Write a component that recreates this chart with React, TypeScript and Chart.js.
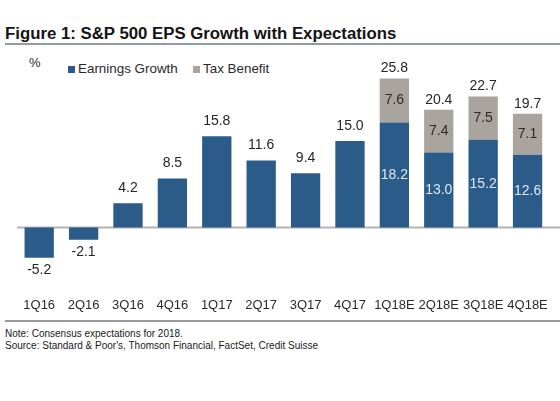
import React, { useEffect, useRef } from "react";
import { Chart, registerables } from "chart.js";

Chart.register(...registerables);

const categories = ["1Q16", "2Q16", "3Q16", "4Q16", "1Q17", "2Q17", "3Q17", "4Q17", "1Q18E", "2Q18E", "3Q18E", "4Q18E"];
const earningsGrowth = [-5.2, -2.1, 4.2, 8.5, 15.8, 11.6, 9.4, 15.0, 18.2, 13.0, 15.2, 12.6];
const taxBenefit: (number | null)[] = [null, null, null, null, null, null, null, null, 7.6, 7.4, 7.5, 7.1];
const totals: (number | null)[] = [null, null, null, null, null, null, null, null, 25.8, 20.4, 22.7, 19.7];

const BLUE = "#2b5b89";
const GRAY = "#aaa49f";
const FONT = '"Liberation Sans", Arial, Helvetica, sans-serif';

const labelPlugin = {
  id: "valueLabels",
  beforeDatasetsDraw(chart: any) {
    const ctx = chart.ctx;
    const y0 = chart.scales.y.getPixelForValue(0);
    ctx.save();
    ctx.strokeStyle = "#b3b3b3";
    ctx.lineWidth = 2;
    ctx.beginPath();
    ctx.moveTo(chart.chartArea.left, y0);
    ctx.lineTo(chart.width, y0);
    ctx.stroke();
    ctx.restore();
  },
  afterDatasetsDraw(chart: any) {
    const ctx = chart.ctx;
    const m0 = chart.getDatasetMeta(0);
    const m1 = chart.getDatasetMeta(1);
    ctx.save();
    ctx.font = "14px " + FONT;
    ctx.textAlign = "center";
    ctx.textBaseline = "middle";
    categories.forEach((_, i) => {
      const e = earningsGrowth[i];
      const b = m0.data[i];
      const t = taxBenefit[i];
      if (t == null) {
        ctx.fillStyle = "#262626";
        if (e >= 0) ctx.fillText(e.toFixed(1), b.x, b.y - 15);
        else ctx.fillText(e.toFixed(1), b.x, b.y + 12);
      } else {
        const g = m1.data[i];
        ctx.fillStyle = "#dce7f3";
        ctx.fillText(e.toFixed(1), b.x, (b.y + b.base) / 2);
        ctx.fillStyle = "#2a2a2a";
        ctx.fillText(t.toFixed(1), g.x, (g.y + g.base) / 2);
        const tot = totals[i];
        if (tot != null) {
          ctx.fillStyle = "#262626";
          ctx.fillText(tot.toFixed(1), g.x, g.y - 10);
        }
      }
    });
    ctx.restore();
  },
};

function ChartCanvas() {
  const ref = useRef<HTMLCanvasElement>(null);
  useEffect(() => {
    if (!ref.current) return;
    const chart = new Chart(ref.current, {
      type: "bar",
      data: {
        labels: categories,
        datasets: [
          { label: "Earnings Growth", data: earningsGrowth, backgroundColor: BLUE, borderWidth: 0 },
          { label: "Tax Benefit", data: taxBenefit, backgroundColor: GRAY, borderWidth: 0 },
        ],
      },
      options: {
        responsive: false,
        animation: false,
        devicePixelRatio: 1,
        layout: { padding: { left: 17, right: 5, top: 10, bottom: 0 } },
        datasets: { bar: { categoryPercentage: 1, barPercentage: 0.66 } },
        plugins: { legend: { display: false }, tooltip: { enabled: false }, title: { display: false } },
        scales: {
          x: {
            stacked: true,
            grid: { display: false, drawTicks: false },
            border: { display: false },
            afterFit(scale: any) {
              scale.height = 32.6;
            },
            ticks: {
              autoSkip: false,
              maxRotation: 0,
              minRotation: 0,
              padding: 12,
              color: "#2a2a2a",
              font: { family: FONT, size: 13 },
            },
          },
          y: { stacked: true, display: false, min: -10, max: 29 },
        },
      },
      plugins: [labelPlugin],
    } as any);
    return () => chart.destroy();
  }, []);
  return (
    <canvas
      ref={ref}
      width={560}
      height={268}
      style={{ position: "absolute", left: 0, top: 50, width: 560, height: 268 }}
    />
  );
}

export default function App() {
  const txt: React.CSSProperties = { position: "absolute", fontFamily: FONT, whiteSpace: "nowrap", color: "#2a2a2a" };
  return (
    <div style={{ position: "fixed", left: 0, top: 0, width: 560, height: 401, background: "#fff", overflow: "hidden" }}>
      <div style={{ ...txt, left: 5, top: 25, fontSize: 16.8, lineHeight: "18px", fontWeight: "bold", color: "#141414" }}>
        Figure 1: S&amp;P 500 EPS Growth with Expectations
      </div>
      <div style={{ position: "absolute", left: 5, top: 42.5, width: 555, height: 2, background: "#8f9ca9" }} />
      <div style={{ ...txt, left: 29, top: 56, fontSize: 13, lineHeight: "14px" }}>%</div>
      <div style={{ position: "absolute", left: 68, top: 65.5, width: 7, height: 7, background: BLUE }} />
      <div style={{ ...txt, left: 78, top: 61, fontSize: 13.4, lineHeight: "16px" }}>Earnings Growth</div>
      <div style={{ position: "absolute", left: 193, top: 65.5, width: 7, height: 7, background: GRAY }} />
      <div style={{ ...txt, left: 203, top: 61, fontSize: 13.4, lineHeight: "16px" }}>Tax Benefit</div>
      <ChartCanvas />
      <div style={{ position: "absolute", left: 5, top: 320, width: 555, height: 1.5, background: "#9a9a9a" }} />
      <div style={{ ...txt, left: 5, top: 328, fontSize: 10, lineHeight: "12px", color: "#1a1a1a" }}>
        Note: Consensus expectations for 2018.
        <br />
        Source: Standard &amp; Poor's, Thomson Financial, FactSet, Credit Suisse
      </div>
    </div>
  );
}
